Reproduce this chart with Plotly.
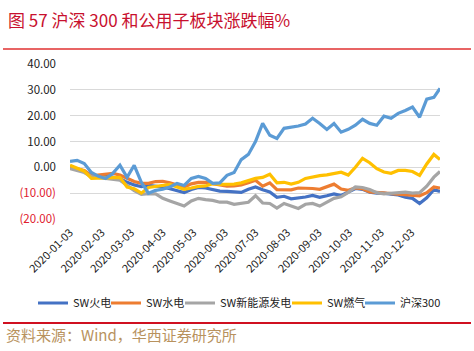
import plotly.graph_objects as go
import pandas as pd

# weekly dates: Fridays from 2020-01-03 to 2020-12-25, plus 2020-12-31
dates = list(pd.date_range("2020-01-03", "2020-12-25", freq="7D").strftime("%Y-%m-%d")) + ["2020-12-31"]

sw_huodian = [0.3, -0.5, -1.5, -3.1, -3.3, -3.5, -3.8, -4.3, -5.8, -6.8, -7.5, -7.0, -7.2, -7.6,
              -8.3, -8.9, -9.8, -8.6, -7.8, -8.0, -8.5, -9.2, -9.3, -9.5, -9.7, -8.5, -7.6, -8.7,
              -9.5, -11.6, -11.2, -12.2, -12.0, -11.5, -10.9, -11.6, -11.0, -10.3, -10.9, -9.7,
              -8.2, -8.5, -9.6, -10.0, -10.0, -10.4, -10.7, -11.6, -12.0, -14.0, -11.8, -8.7, -9.3]
sw_shuidian = [0.0, -0.5, -1.2, -3.3, -3.0, -2.7, -2.3, -3.0, -4.3, -5.5, -6.2, -6.2, -5.5, -5.4,
               -6.0, -6.8, -7.6, -6.4, -5.8, -5.8, -6.3, -7.0, -7.3, -7.2, -6.8, -6.0, -5.0, -7.3,
               -6.0, -8.6, -8.8, -8.7, -8.0, -8.0, -8.2, -8.5, -7.5, -6.5, -8.4, -8.9, -8.0, -8.3,
               -9.5, -9.7, -9.8, -10.0, -10.2, -10.5, -10.8, -11.0, -9.8, -7.6, -8.0]
sw_xinnengyuan = [-0.5, -1.2, -2.0, -3.6, -4.0, -4.3, -4.8, -5.0, -7.0, -9.0, -10.5, -10.2, -10.3,
                  -12.0, -13.0, -14.0, -15.0, -13.0, -12.0, -12.5, -12.8, -13.5, -13.5, -14.3,
                  -14.0, -13.5, -11.0, -13.8, -14.0, -15.8, -14.0, -15.0, -15.9, -14.3, -14.0,
                  -15.0, -13.5, -12.0, -11.4, -9.7, -7.6, -7.8, -8.6, -9.8, -10.3, -10.0, -10.0,
                  -9.6, -10.0, -9.8, -7.3, -3.8, -1.6]
sw_ranqi = [0.8, -0.5, -1.5, -4.3, -4.3, -4.1, -4.0, -3.9, -7.6, -8.3, -10.0, -7.8, -7.4, -7.2,
            -6.6, -7.6, -8.5, -8.0, -7.4, -7.2, -6.3, -6.6, -6.6, -6.5, -6.0, -5.0, -4.3, -3.9,
            -2.7, -6.0, -5.8, -6.5, -5.8, -4.3, -3.7, -3.2, -2.9, -2.5, -1.9, -3.0, 0.0, 3.5,
            1.8, -0.5, -1.8, -2.3, -1.2, -1.2, -1.6, -3.1, 1.3, 5.0, 3.0]
hs300 = [2.3, 2.7, 1.5, -2.0, -3.5, -4.3, -2.3, 0.8, -3.9, 0.8, -5.8, -10.0, -8.9, -8.5, -7.6,
         -6.2, -7.0, -4.3, -3.5, -4.3, -6.2, -6.0, -3.1, -2.0, 3.0, 5.0, 10.0, 17.0, 12.4, 11.2,
         15.1, 15.5, 16.0, 16.8, 19.0, 17.0, 14.7, 17.0, 13.6, 14.7, 16.3, 18.6, 17.0, 16.3,
         19.8, 19.0, 20.9, 22.0, 23.3, 19.4, 26.4, 27.1, 30.6]

series_names = ["SW火电", "SW水电", "SW新能源发电", "SW燃气", "沪深300"]
series_values = [sw_huodian, sw_shuidian, sw_xinnengyuan, sw_ranqi, hs300]
colors = ["#4472C4", "#ED7D31", "#A5A5A5", "#FFC000", "#5B9BD5"]

tick_dates = ["2020-%02d-03" % m for m in range(1, 13)]
y_vals = [40, 30, 20, 10, 0, -10, -20]
y_text = ["40.00", "30.00", "20.00", "10.00", "0.00",
          "<span style='color:#E0202E'>(10.00)</span>",
          "<span style='color:#E0202E'>(20.00)</span>"]

title_text = "图 57 沪深 300 和公用子板块涨跌幅%"
source_text = "资料来源：Wind，华西证券研究所"

W, H = 474, 351
L, R, T, B = 70, 34, 64, 132
pw, ph = W - L - R, H - T - B

def px(x):
    return (x - L) / pw

def py(y):
    return (H - B - y) / ph

# pixel x where each legend entry's line starts
legend_line_x = [38, 111, 185, 292, 365]
legend_names = ["legend", "legend2", "legend3", "legend4", "legend5"]

fig = go.Figure()
for name, vals, c, lg in zip(series_names, series_values, colors, legend_names):
    fig.add_trace(go.Scatter(x=dates, y=vals, name=name, mode="lines",
                             line=dict(color=c, width=3.2), legend=lg))

legend_layouts = {}
for lg, lx in zip(legend_names, legend_line_x):
    legend_layouts[lg] = dict(
        orientation="h", xref="container", yref="container",
        x=(lx - 5) / W, xanchor="left", y=(H - 303) / H, yanchor="middle",
        font=dict(size=11, color="#222222"), itemwidth=30,
        bgcolor="rgba(0,0,0,0)", borderwidth=0)

fig.update_layout(
    width=W, height=H,
    margin=dict(l=L, r=R, t=T, b=B),
    paper_bgcolor="white", plot_bgcolor="white",
    font=dict(family="Noto Sans CJK SC, Noto Sans, sans-serif", size=11, color="#222222"),
    showlegend=True,
    xaxis=dict(type="date", range=["2020-01-03", "2020-12-31"],
               tickvals=tick_dates, ticktext=tick_dates, tickangle=-45,
               tickfont=dict(size=11, color="#222222"), ticklabelstandoff=4,
               showgrid=False, showline=False, zeroline=False, ticks=""),
    yaxis=dict(range=[-20, 40], tickvals=y_vals, ticktext=y_text,
               showgrid=True, gridcolor="#D9D9D9", gridwidth=1,
               zeroline=True, zerolinecolor="#D9D9D9", zerolinewidth=1,
               tickfont=dict(size=11.5, color="#222222"), ticklabelstandoff=13,
               showline=False, ticks=""),
    shapes=[
        dict(type="line", xref="paper", yref="paper", x0=px(3), x1=px(471), y0=py(49), y1=py(49),
             line=dict(color="#E03030", width=1.5)),
        dict(type="line", xref="paper", yref="paper", x0=px(3), x1=px(471), y0=py(323), y1=py(323),
             line=dict(color="#D01020", width=2)),
    ],
    annotations=[
        dict(text=title_text, xref="paper", yref="paper", x=px(6), y=py(19), xanchor="left",
             yanchor="middle", showarrow=False,
             font=dict(size=17, color="#C8102E", family="Noto Sans CJK SC")),
        dict(text=source_text, xref="paper", yref="paper", x=px(4), y=py(334), xanchor="left",
             yanchor="middle", showarrow=False,
             font=dict(size=15, color="#B8925E", family="Noto Sans CJK SC")),
    ],
    **legend_layouts,
)

fig.write_html("out.html")
